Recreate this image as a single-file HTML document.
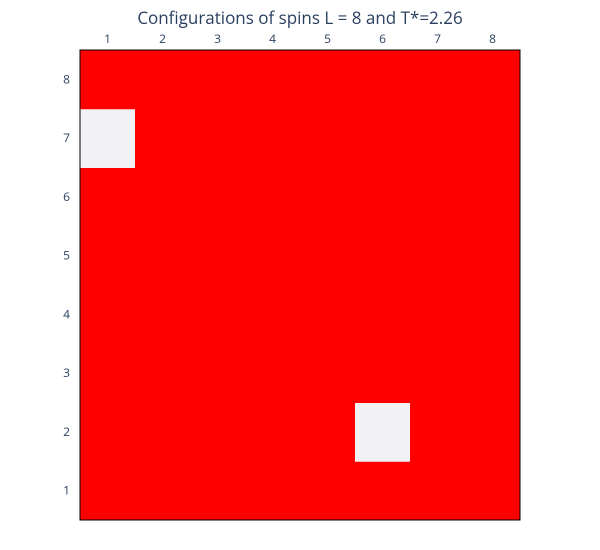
<!DOCTYPE html>
<html><head><meta charset="utf-8"><style>
body{margin:0;background:#fff;}
svg{display:block;font-family:"Open Sans","Liberation Sans",sans-serif;}
</style></head><body>
<svg id="chart" width="600" height="550">
<text x="300" y="24" text-anchor="middle" font-size="17" fill="#2a3f5f">Configurations of spins L = 8 and T*=2.26</text>
<g id="cells"></g>
<g id="xticks"></g>
<g id="yticks"></g>
<rect x="80" y="50" width="440" height="470" fill="none" stroke="#000" stroke-width="1"/>
</svg>
<script>
const xLabels = ["1","2","3","4","5","6","7","8"];
const yLabels = ["1","2","3","4","5","6","7","8"];
// spins[row][col], row 0 = y label "1" (bottom)
const spins = [
 [1,1,1,1,1,1,1,1],
 [1,1,1,1,1,-1,1,1],
 [1,1,1,1,1,1,1,1],
 [1,1,1,1,1,1,1,1],
 [1,1,1,1,1,1,1,1],
 [1,1,1,1,1,1,1,1],
 [-1,1,1,1,1,1,1,1],
 [1,1,1,1,1,1,1,1]
];
const NS="http://www.w3.org/2000/svg";
const L=80,R=520,T=50,B=520;
const cw=(R-L)/xLabels.length, ch=(B-T)/yLabels.length;
const xPos=i=>L+i*cw;
const yPos=j=>B-(j+1)*ch;
const color=v=>v>0?"#ff0000":"#f2f2f6";
const cells=document.getElementById('cells');
spins.forEach((row,j)=>row.forEach((v,i)=>{
  const r=document.createElementNS(NS,'rect');
  r.setAttribute('x',xPos(i));r.setAttribute('y',yPos(j));
  r.setAttribute('width',cw+0.5);r.setAttribute('height',ch+0.5);
  r.setAttribute('fill',color(v));
  
  
  cells.appendChild(r);
}));
const xt=document.getElementById('xticks');
xLabels.forEach((l,i)=>{
  const t=document.createElementNS(NS,'text');
  t.setAttribute('x',xPos(i)+cw/2);t.setAttribute('y',43);
  t.setAttribute('text-anchor','middle');t.setAttribute('font-size','12');t.setAttribute('fill','#2a3f5f');
  t.textContent=l;
  
  
  xt.appendChild(t);
});
const yt=document.getElementById('yticks');
yLabels.forEach((l,j)=>{
  const t=document.createElementNS(NS,'text');
  t.setAttribute('x',70);t.setAttribute('y',yPos(j)+ch/2+4);
  t.setAttribute('text-anchor','end');t.setAttribute('font-size','12');t.setAttribute('fill','#2a3f5f');
  t.textContent=l;
  
  
  yt.appendChild(t);
});
</script>
</body></html>
